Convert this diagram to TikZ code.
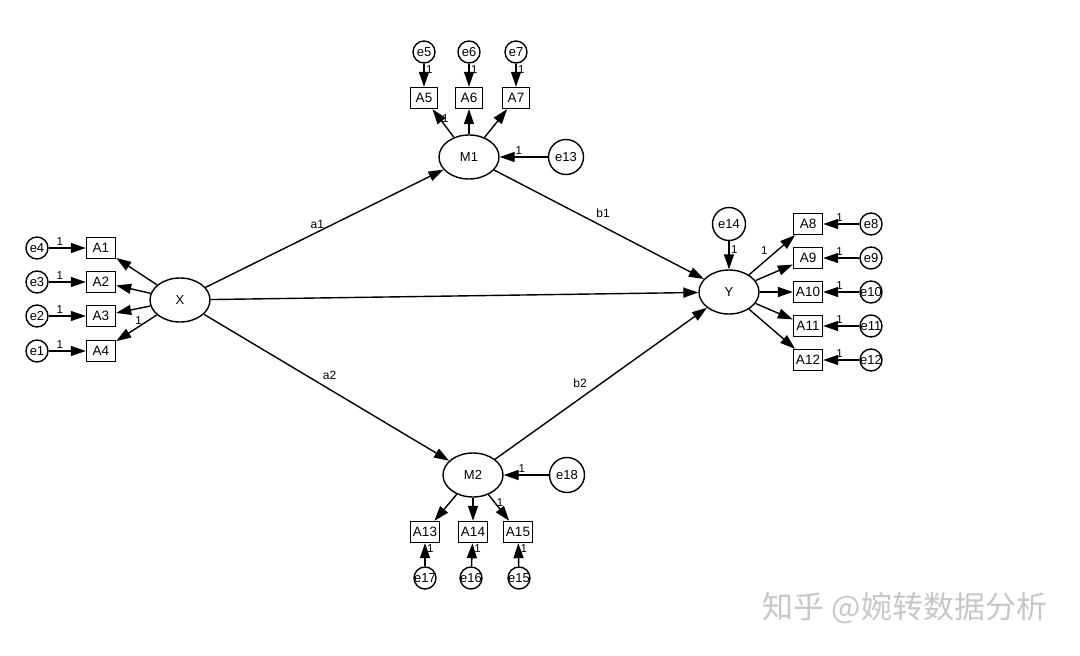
\documentclass[tikz,border=0pt]{standalone}
\usepackage{fontspec}
\setmainfont{Liberation Sans}
\newfontfamily\cjk{Noto Sans CJK SC}
\usepackage{tikz}
\usetikzlibrary{positioning, arrows.meta, shapes.geometric}

\newcommand{\etxt}[1]{\makebox[0pt]{#1}}

\begin{document}
\begin{tikzpicture}[x=1pt, y=-1pt,
    latent/.style={draw, ellipse, line width=1.4pt, minimum width=60pt, minimum height=44pt, inner sep=0pt, font=\fontsize{13}{15}\selectfont},
    obs/.style={draw, rectangle, line width=1.4pt, minimum width=29pt, minimum height=21pt, inner sep=1pt, font=\fontsize{13.5}{15}\selectfont},
    err/.style={draw, circle, line width=1.4pt, minimum size=22pt, inner sep=0pt, font=\fontsize{13}{15}\selectfont},
    bigerr/.style={err, minimum size=35pt},
    reg/.style={-{Triangle[length=15pt,width=10pt]}, line width=1.4pt},
    one/.style={font=\fontsize{11.5}{13}\selectfont, inner sep=1.5pt},
    coef/.style={font=\fontsize{12}{14}\selectfont, inner sep=3pt}
  ]
  \useasboundingbox (0,0) rectangle (1080,656);

  % latent variables
  \node[latent] (X) at (180,300) {X};
  \node[latent] (M1) at (469,157) {M1};
  \node[latent] (M2) at (473,475) {M2};
  \node[latent] (Y) at (729,292) {Y};

  % indicators of X
  \node[obs] (A1) at (101,248) {A1};
  \node[obs] (A2) at (101,282) {A2};
  \node[obs] (A3) at (101,316) {A3};
  \node[obs] (A4) at (101,351) {A4};
  \node[err] (e4) at (37,248) {\etxt{e4}};
  \node[err] (e3) at (37,282) {\etxt{e3}};
  \node[err] (e2) at (37,316) {\etxt{e2}};
  \node[err] (e1) at (37,351) {\etxt{e1}};

  % indicators of M1
  \node[obs, minimum width=27pt] (A5) at (424,98) {A5};
  \node[obs, minimum width=27pt] (A6) at (469,98) {A6};
  \node[obs, minimum width=27pt] (A7) at (516,98) {A7};
  \node[err] (e5) at (424,52) {\etxt{e5}};
  \node[err] (e6) at (469,52) {\etxt{e6}};
  \node[err] (e7) at (516,52) {\etxt{e7}};
  \node[bigerr] (e13) at (566,157) {e13};

  % indicators of Y
  \node[obs] (A8) at (808,224) {A8};
  \node[obs] (A9) at (808,258) {A9};
  \node[obs] (A10) at (808,292) {A10};
  \node[obs] (A11) at (808,326) {A11};
  \node[obs] (A12) at (808,360) {A12};
  \node[err] (e8) at (871,224) {\etxt{e8}};
  \node[err] (e9) at (871,258) {\etxt{e9}};
  \node[err] (e10) at (871,292) {\etxt{e10}};
  \node[err] (e11) at (871,326) {\etxt{e11}};
  \node[err] (e12) at (871,360) {\etxt{e12}};
  \node[bigerr, minimum size=33pt] (e14) at (729,224) {e14};

  % indicators of M2
  \node[obs] (A13) at (425,532) {A13};
  \node[obs] (A14) at (473,532) {A14};
  \node[obs] (A15) at (518,532) {A15};
  \node[err] (e17) at (425,578) {\etxt{e17}};
  \node[err] (e16) at (471,578) {\etxt{e16}};
  \node[err] (e15) at (519,578) {\etxt{e15}};
  \node[bigerr] (e18) at (567,475) {e18};

  % structural paths
  \draw[reg] (X) -- node[coef, above, pos=0.47] {a1} (M1);
  \draw[reg] (M1) -- node[coef, above right, pos=0.47] {b1} (Y);
  \draw[reg] (X) -- node[coef, above right, pos=0.47] {a2} (M2);
  \draw[reg] (M2) -- node[coef, above left, pos=0.45] {b2} (Y);
  \draw[reg] (X) -- (Y);

  % measurement of X
  \draw[reg] (X) -- (A1);
  \draw[reg] (X) -- (A2);
  \draw[reg] (X) -- (A3);
  \draw[reg] (X) -- node[one, above, pos=0.45] {1} (A4);
  \draw[reg] (e4) -- node[one, above, pos=0.3] {1} (A1);
  \draw[reg] (e3) -- node[one, above, pos=0.3] {1} (A2);
  \draw[reg] (e2) -- node[one, above, pos=0.3] {1} (A3);
  \draw[reg] (e1) -- node[one, above, pos=0.3] {1} (A4);

  % measurement of M1
  \draw[reg] (M1) -- node[one, right, pos=0.65] {1} (A5);
  \draw[reg] (M1) -- (A6);
  \draw[reg] (M1) -- (A7);
  \draw[reg] (e5) -- node[one, right, pos=0.25] {1} (A5);
  \draw[reg] (e6) -- node[one, right, pos=0.25] {1} (A6);
  \draw[reg] (e7) -- node[one, right, pos=0.25] {1} (A7);
  \draw[reg] (e13) -- node[one, above, pos=0.6] {1} (M1);

  % measurement of Y
  \draw[reg] (Y) -- node[one, above left, pos=0.45] {1} (A8);
  \draw[reg] (Y) -- (A9);
  \draw[reg] (Y) -- (A10);
  \draw[reg] (Y) -- (A11);
  \draw[reg] (Y) -- (A12);
  \draw[reg] (e8) -- node[one, above, pos=0.55] {1} (A8);
  \draw[reg] (e9) -- node[one, above, pos=0.55] {1} (A9);
  \draw[reg] (e10) -- node[one, above, pos=0.55] {1} (A10);
  \draw[reg] (e11) -- node[one, above, pos=0.55] {1} (A11);
  \draw[reg] (e12) -- node[one, above, pos=0.55] {1} (A12);
  \draw[reg] (e14) -- node[one, right, pos=0.3] {1} (Y);

  % measurement of M2
  \draw[reg] (M2) -- (A13);
  \draw[reg] (M2) -- (A14);
  \draw[reg] (M2) -- node[one, right, pos=0.3] {1} (A15);
  \draw[reg] (e17) -- node[one, right, pos=0.75] {1} (A13);
  \draw[reg] (e16) -- node[one, right, pos=0.75] {1} (A14);
  \draw[reg] (e15) -- node[one, right, pos=0.75] {1} (A15);
  \draw[reg] (e18) -- node[one, above, pos=0.6] {1} (M2);

  % watermark
  \node[text=black!22, font=\cjk\fontsize{31}{33}\selectfont] (wm) at (905,608) {知乎 @婉转数据分析};
\end{tikzpicture}
\end{document}
